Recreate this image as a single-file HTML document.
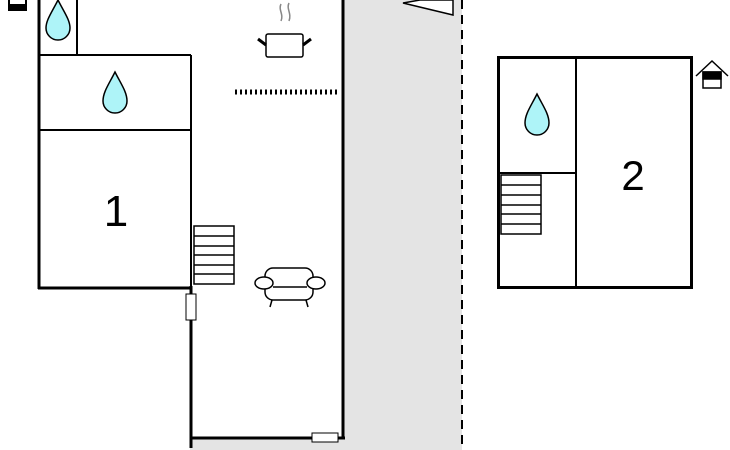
<!DOCTYPE html>
<html><head><style>body{margin:0;background:#fff}svg{display:block}</style></head><body>
<svg width="730" height="450" viewBox="0 0 730 450" xmlns="http://www.w3.org/2000/svg">
<rect x="0" y="0" width="730" height="450" fill="#fff"/>
<rect x="344" y="0" width="118" height="450" fill="#e4e4e4"/>
<rect x="190" y="438" width="160" height="12" fill="#e4e4e4"/>
<line x1="462" y1="0" x2="462" y2="450" stroke="#000" stroke-width="2" stroke-dasharray="9,6"/>
<polygon points="403,3 453,15 453,0 420,0" fill="#fff" stroke="#000" stroke-width="1.5"/>
<g fill="none" stroke="#000">
<line x1="39" y1="0" x2="39" y2="289" stroke-width="3"/>
<line x1="77" y1="0" x2="77" y2="55" stroke-width="2"/>
<line x1="39" y1="55" x2="191" y2="55" stroke-width="2"/>
<line x1="39" y1="130" x2="191" y2="130" stroke-width="2"/>
<line x1="191" y1="55" x2="191" y2="288" stroke-width="2"/>
<line x1="38" y1="288" x2="192" y2="288" stroke-width="3"/>
<line x1="191" y1="286" x2="191" y2="448" stroke-width="3"/>
<line x1="190" y1="438" x2="345" y2="438" stroke-width="3"/>
<line x1="343" y1="0" x2="343" y2="439" stroke-width="3"/>
<line x1="235" y1="92" x2="337" y2="92" stroke-width="5" stroke-dasharray="2,3"/>
</g>
<rect x="186" y="294" width="10" height="26" fill="#fff" stroke="#000" stroke-width="1"/>
<rect x="312" y="433" width="26" height="9" fill="#fff" stroke="#000" stroke-width="1"/>
<rect x="8" y="0" width="19" height="11" fill="#000"/>
<rect x="10" y="0" width="15" height="4" fill="#fff"/>
<g stroke="#000" stroke-width="1.5" fill="#aef4f8">
<path d="M58,0 C52,12 46,20 46,28 A12,12 0 0 0 70,28 C70,20 64,12 58,0Z"/>
<path d="M115,72 C109,84 103,92 103,101 A12,12 0 0 0 127,101 C127,92 121,84 115,72Z"/>
<path d="M537,94 C531,106 525,114 525,123 A12,12 0 0 0 549,123 C549,114 543,106 537,94Z"/>
</g>
<text x="116" y="226" font-family="Liberation Sans, sans-serif" font-size="44" text-anchor="middle">1</text>
<g fill="#fff" stroke="#000" stroke-width="1.5">
<rect x="194" y="226" width="40" height="58"/>
<path d="M194,236H234M194,246H234M194,255H234M194,265H234M194,274H234"/>
</g>
<g stroke="#000" stroke-width="1.5" fill="#fff">
<rect x="266" y="34" width="37" height="23" rx="2"/>
<line x1="258" y1="39" x2="266" y2="45" stroke-width="3"/>
<line x1="311" y1="39" x2="303" y2="45" stroke-width="3"/>
</g>
<path d="M281,4 c-3,6 3,10 0,17 M289,3 c-3,6 3,10 0,18" stroke="#888" stroke-width="1.5" fill="none"/>
<g stroke="#000" stroke-width="1.5" fill="#fff">
<rect x="265" y="268" width="48" height="32" rx="8"/>
<line x1="272" y1="300" x2="270" y2="307"/><line x1="306" y1="300" x2="308" y2="307"/>
<ellipse cx="264" cy="283" rx="9" ry="6"/><ellipse cx="316" cy="283" rx="9" ry="6"/>
<line x1="273" y1="287" x2="307" y2="287"/>
</g>
<g fill="none" stroke="#000">
<rect x="498.5" y="57.5" width="193" height="230" stroke-width="3"/>
<line x1="576" y1="57" x2="576" y2="288" stroke-width="2"/>
<line x1="498" y1="173" x2="576" y2="173" stroke-width="2"/>
</g>
<g fill="#fff" stroke="#000" stroke-width="1.5">
<rect x="501" y="175" width="40" height="59"/>
<path d="M501,185H541M501,195H541M501,205H541M501,214H541M501,224H541"/>
</g>
<text x="633" y="190" font-family="Liberation Sans, sans-serif" font-size="42" text-anchor="middle">2</text>
<g stroke="#000" stroke-width="1.5" fill="#fff">
<polyline points="696,76 712,61 728,76" fill="none"/>
<rect x="703" y="72" width="18" height="16"/>
<rect x="703" y="72" width="18" height="7" fill="#000"/>
</g>
</svg>
</body></html>
